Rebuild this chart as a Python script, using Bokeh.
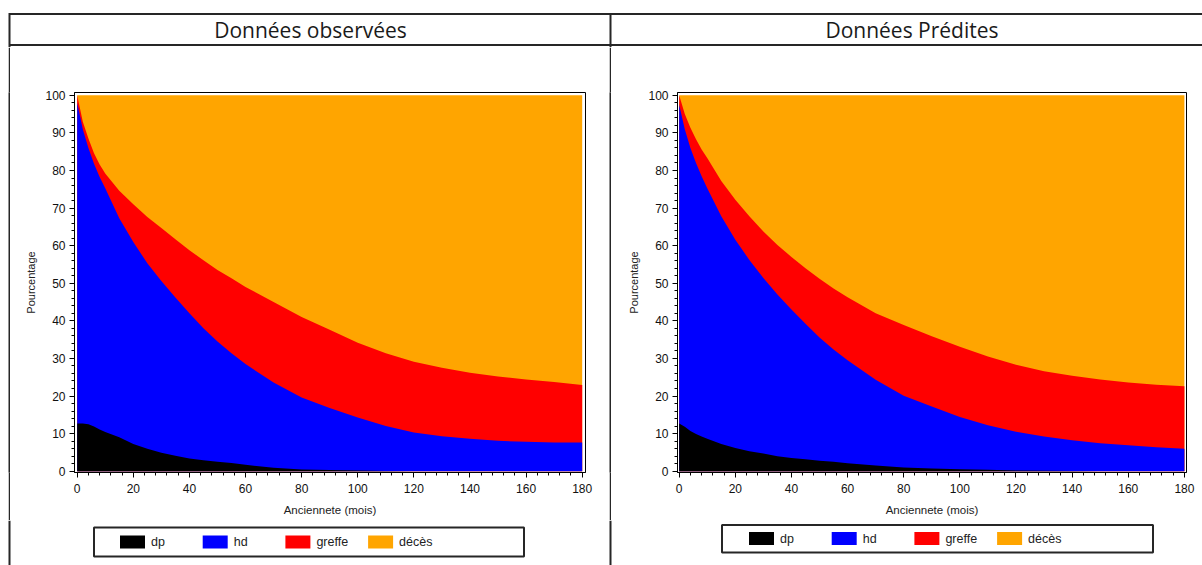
from bokeh.plotting import figure
from bokeh.layouts import row, column
from bokeh.models import (ColumnDataSource, Range1d, SingleIntervalTicker,
                          Spacer)
from bokeh.transform import stack
from bokeh.core.properties import value
from bokeh.embed import file_html
from bokeh.resources import INLINE

# ---- data: share of patients in each state (%) by seniority (months) ----
months = [0, 2, 4, 6, 8, 10, 15, 20, 25, 30, 35, 40, 45, 50, 55, 60,
          70, 80, 90, 100, 110, 120, 130, 140, 150, 160, 170, 180]

obs_dp = [12.7, 12.7, 12.5, 11.9, 11.1, 10.4, 9.0, 7.2, 6.0, 4.9, 4.1, 3.4,
          2.9, 2.5, 2.2, 1.7, 0.9, 0.45, 0.3, 0.15, 0.05, 0, 0, 0, 0, 0, 0, 0]
obs_hd = [85.3, 78.3, 73.5, 69.9, 67.2, 64.9, 58.3, 53.8, 49.3, 45.7, 42.1,
          38.6, 35.1, 32.0, 29.2, 26.8, 22.7, 19.15, 16.5, 14.15, 11.95, 10.3,
          9.3, 8.6, 8.1, 7.8, 7.6, 7.6]
obs_greffe = [2.0, 2.0, 2.5, 2.8, 3.3, 3.9, 7.3, 10.0, 12.3, 14.1, 15.5, 16.8,
              18.1, 19.0, 19.9, 20.5, 21.4, 21.4, 20.8, 19.9, 19.4, 18.8, 18.2,
              17.6, 17.1, 16.6, 16.1, 15.3]
obs_deces = [0.0, 7.0, 11.5, 15.4, 18.4, 20.8, 25.4, 29.0, 32.4, 35.3, 38.3,
             41.2, 43.9, 46.5, 48.7, 51.0, 55.0, 59.0, 62.4, 65.8, 68.6, 70.9,
             72.5, 73.8, 74.8, 75.6, 76.3, 77.1]

pred_dp = [12.7, 11.8, 10.7, 9.9, 9.2, 8.6, 7.2, 6.2, 5.3, 4.7, 4.0, 3.5, 3.2,
           2.8, 2.5, 2.1, 1.5, 1.0, 0.7, 0.5, 0.35, 0.2, 0.1, 0.05, 0, 0, 0, 0]
pred_hd = [84.8, 79.2, 75.3, 72.1, 69.3, 66.7, 60.6, 55.4, 50.9, 46.7, 43.0,
           39.5, 36.0, 32.8, 29.9, 27.4, 22.8, 19.1, 16.5, 13.9, 11.85, 10.3,
           9.1, 8.15, 7.4, 6.9, 6.4, 6.0]
pred_greffe = [2.5, 4.0, 5.4, 6.3, 7.1, 8.0, 9.4, 10.6, 11.6, 12.4, 13.2, 14.0,
               14.8, 15.6, 16.2, 16.8, 17.7, 18.8, 18.7, 18.7, 18.3, 17.8,
               17.4, 17.2, 17.0, 16.7, 16.6, 16.6]
pred_deces = [0.0, 5.0, 8.6, 11.7, 14.4, 16.7, 22.8, 27.8, 32.2, 36.2, 39.8,
              43.0, 46.0, 48.8, 51.4, 53.7, 58.0, 61.1, 64.1, 66.9, 69.5, 71.7,
              73.4, 74.6, 75.6, 76.4, 77.0, 77.4]

states = ["dp", "hd", "greffe", "deces"]
state_labels = ["dp", "hd", "greffe", "décès"]
state_colors = ["#000000", "#0000ff", "#ff0000", "#ffa500"]
panel_titles = ["Données observées", "Données Prédites"]
x_label = "Anciennete (mois)"
y_label = "Pourcentage"

LINE = "#262626"
SANS = "Liberation Sans"
PAGE_W = 1202
HEAD_H = 47
BODY_H = 473
FOOT_H = 45
TOP_B, BOTTOM_B = 45, 48   # chart borders above / below the plot frame
RULE_X = [9, 610]          # vertical table rules (page pixels)


def blank(width, height, xr, yr, **kw):
    f = figure(width=width, height=height, x_range=xr, y_range=yr,
               toolbar_location=None, tools="", output_backend="svg",
               x_axis_location=None, y_axis_location=None,
               outline_line_color=None, **kw)
    f.grid.visible = False
    return f


def rule(width):
    # a solid vertical table rule running through the chart row; its
    # borders match the charts so the row needs no re-alignment
    r = blank(width, BODY_H, Range1d(0, 1), Range1d(0, 1),
              min_border_left=0, min_border_right=0,
              min_border_top=TOP_B, min_border_bottom=BOTTOM_B)
    r.background_fill_color = LINE
    r.border_fill_color = LINE
    return r


# ---- header row of the table with the two panel titles ----
head = blank(PAGE_W, HEAD_H, Range1d(0, PAGE_W), Range1d(HEAD_H, 0),
             min_border=0)
head.segment(x0=[RULE_X[0], RULE_X[0]] + RULE_X, y0=[13.5, 44.5, 12.5, 12.5],
             x1=[PAGE_W, PAGE_W] + RULE_X, y1=[13.5, 44.5, HEAD_H, HEAD_H],
             line_color=LINE, line_width=2)
head.text(x=[310, 911.5], y=[29.5, 29.5], text=panel_titles,
          text_font=value("Open Sans"), text_font_size="21px",
          text_align="center", text_baseline="middle",
          text_color="#1a1a1a")


# ---- the two stacked-area charts ----
def chart(dp, hd, gr, de, width, b_left, b_right, xr):
    src = ColumnDataSource(dict(month=months, dp=dp, hd=hd, greffe=gr,
                                deces=de))
    p = figure(width=width, height=BODY_H, x_range=Range1d(*xr),
               y_range=Range1d(-0.35, 100.75),
               min_border_left=b_left, min_border_right=b_right,
               min_border_top=TOP_B, min_border_bottom=BOTTOM_B,
               toolbar_location=None, tools="", output_backend="svg")
    p.grid.visible = False
    p.outline_line_color = "#000000"
    p.outline_line_width = 1

    # cumulative areas drawn from the top state down, each from 0
    for i in range(len(states) - 1, -1, -1):
        p.varea(x="month", y1=0, y2=stack(*states[:i + 1]), source=src,
                fill_color=state_colors[i])

    p.xaxis.ticker = SingleIntervalTicker(interval=20, num_minor_ticks=5)
    p.yaxis.ticker = SingleIntervalTicker(interval=10, num_minor_ticks=5)
    p.xaxis.axis_label = x_label
    p.yaxis.axis_label = y_label
    for ax in (p.xaxis[0], p.yaxis[0]):
        ax.axis_line_color = "#000000"
        ax.major_tick_line_color = "#000000"
        ax.minor_tick_line_color = "#000000"
        ax.major_tick_out = 5
        ax.major_tick_in = 0
        ax.minor_tick_out = 3
        ax.minor_tick_in = 0
        ax.major_label_text_font = SANS
        ax.major_label_text_font_size = "12px"
        ax.major_label_text_color = "#111111"
        ax.axis_label_text_font = SANS
        ax.axis_label_text_font_style = "normal"
        ax.axis_label_text_color = "#222222"
    p.xaxis.major_label_standoff = 6
    p.xaxis.axis_label_standoff = 8
    p.xaxis.axis_label_text_font_size = "11.5px"
    p.yaxis.major_label_standoff = 4
    p.yaxis.axis_label_standoff = 5
    p.yaxis.axis_label_text_font_size = "11px"
    return p


left = chart(obs_dp, obs_hd, obs_greffe, obs_deces, 599, 64, 24,
             (-0.96, 181.18))
right = chart(pred_dp, pred_hd, pred_greffe, pred_deces, 591, 66, 16,
              (-0.6, 180.75))

# ---- footer row: framed legend under each chart ----
foot_top = HEAD_H + BODY_H
foot = blank(PAGE_W, FOOT_H, Range1d(0, PAGE_W),
             Range1d(foot_top + FOOT_H, foot_top), min_border=0)
foot.segment(x0=RULE_X, y0=[foot_top] * 2, x1=RULE_X,
             y1=[foot_top + FOOT_H] * 2, line_color=LINE, line_width=2)

# (box left, box right, box top, box bottom, first key x, key top)
legend_frames = [(93.5, 523.5, 527, 556, 119.5, 535),
                 (721.5, 1152.5, 524.5, 552, 748.5, 531.5)]
KEY_STEP, KEY_W, KEY_H, KEY_GAP = 82.7, 25, 13, 6

for bl, br, bt, bb, kx, ky in legend_frames:
    foot.quad(left=[bl], right=[br], top=[bt], bottom=[bb],
              fill_color="#ffffff", line_color=LINE, line_width=2)
    xs = [kx + k * KEY_STEP for k in range(len(states))]
    foot.quad(left=xs, right=[x + KEY_W for x in xs], top=[ky] * len(xs),
              bottom=[ky + KEY_H] * len(xs), fill_color=state_colors,
              line_color=None)
    foot.text(x=[x + KEY_W + KEY_GAP for x in xs],
              y=[ky + KEY_H / 2] * len(xs), text=state_labels,
              text_font=value(SANS), text_font_size="12.5px",
              text_align="left", text_baseline="middle",
              text_color="#222222")

page = column(head,
              row(Spacer(width=8, height=BODY_H), rule(2), left, rule(2),
                  right),
              foot)

open("out.html", "w").write(file_html(page, INLINE))
